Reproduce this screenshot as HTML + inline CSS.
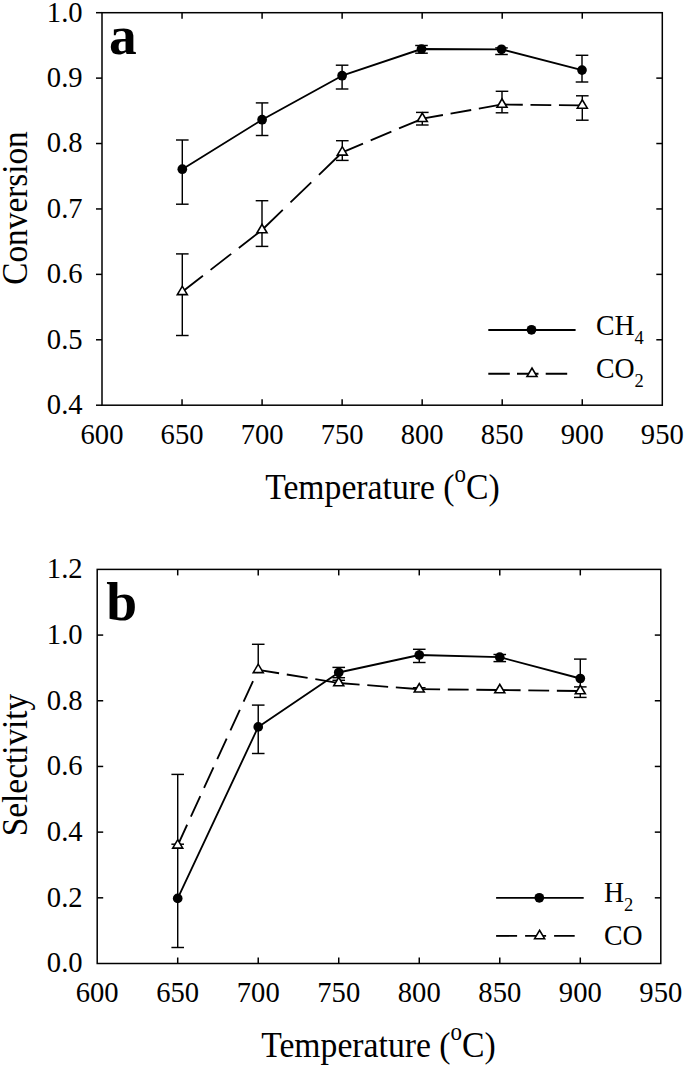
<!DOCTYPE html>
<html><head><meta charset="utf-8"><style>
html,body{margin:0;padding:0;background:#fff;}
body{width:685px;height:1067px;overflow:hidden;}
svg{display:block;}
</style></head><body>
<svg width="685" height="1067" viewBox="0 0 685 1067" font-family='"Liberation Serif", serif'>
<rect width="685" height="1067" fill="#fff"/>
<rect x="102" y="12.7" width="560.30" height="392.50" fill="none" stroke="#000" stroke-width="1.5"/>
<line x1="96.00" y1="405.20" x2="102.00" y2="405.20" stroke="#000" stroke-width="1.5" />
<text transform="translate(82.60,414.10) scale(1,1.06)" font-size="28.6" text-anchor="end" >0.4</text>
<line x1="96.00" y1="339.78" x2="102.00" y2="339.78" stroke="#000" stroke-width="1.5" />
<line x1="656.30" y1="339.78" x2="662.30" y2="339.78" stroke="#000" stroke-width="1.5" />
<text transform="translate(82.60,348.68) scale(1,1.06)" font-size="28.6" text-anchor="end" >0.5</text>
<line x1="96.00" y1="274.37" x2="102.00" y2="274.37" stroke="#000" stroke-width="1.5" />
<line x1="656.30" y1="274.37" x2="662.30" y2="274.37" stroke="#000" stroke-width="1.5" />
<text transform="translate(82.60,283.27) scale(1,1.06)" font-size="28.6" text-anchor="end" >0.6</text>
<line x1="96.00" y1="208.95" x2="102.00" y2="208.95" stroke="#000" stroke-width="1.5" />
<line x1="656.30" y1="208.95" x2="662.30" y2="208.95" stroke="#000" stroke-width="1.5" />
<text transform="translate(82.60,217.85) scale(1,1.06)" font-size="28.6" text-anchor="end" >0.7</text>
<line x1="96.00" y1="143.53" x2="102.00" y2="143.53" stroke="#000" stroke-width="1.5" />
<line x1="656.30" y1="143.53" x2="662.30" y2="143.53" stroke="#000" stroke-width="1.5" />
<text transform="translate(82.60,152.43) scale(1,1.06)" font-size="28.6" text-anchor="end" >0.8</text>
<line x1="96.00" y1="78.12" x2="102.00" y2="78.12" stroke="#000" stroke-width="1.5" />
<line x1="656.30" y1="78.12" x2="662.30" y2="78.12" stroke="#000" stroke-width="1.5" />
<text transform="translate(82.60,87.02) scale(1,1.06)" font-size="28.6" text-anchor="end" >0.9</text>
<line x1="96.00" y1="12.70" x2="102.00" y2="12.70" stroke="#000" stroke-width="1.5" />
<text transform="translate(82.60,21.60) scale(1,1.06)" font-size="28.6" text-anchor="end" >1.0</text>
<text transform="translate(102.00,443.60) scale(1,1.06)" font-size="28.6" text-anchor="middle" >600</text>
<line x1="182.04" y1="405.20" x2="182.04" y2="399.20" stroke="#000" stroke-width="1.5" />
<line x1="182.04" y1="12.70" x2="182.04" y2="18.70" stroke="#000" stroke-width="1.5" />
<text transform="translate(182.04,443.60) scale(1,1.06)" font-size="28.6" text-anchor="middle" >650</text>
<line x1="262.09" y1="405.20" x2="262.09" y2="399.20" stroke="#000" stroke-width="1.5" />
<line x1="262.09" y1="12.70" x2="262.09" y2="18.70" stroke="#000" stroke-width="1.5" />
<text transform="translate(262.09,443.60) scale(1,1.06)" font-size="28.6" text-anchor="middle" >700</text>
<line x1="342.13" y1="405.20" x2="342.13" y2="399.20" stroke="#000" stroke-width="1.5" />
<line x1="342.13" y1="12.70" x2="342.13" y2="18.70" stroke="#000" stroke-width="1.5" />
<text transform="translate(342.13,443.60) scale(1,1.06)" font-size="28.6" text-anchor="middle" >750</text>
<line x1="422.17" y1="405.20" x2="422.17" y2="399.20" stroke="#000" stroke-width="1.5" />
<line x1="422.17" y1="12.70" x2="422.17" y2="18.70" stroke="#000" stroke-width="1.5" />
<text transform="translate(422.17,443.60) scale(1,1.06)" font-size="28.6" text-anchor="middle" >800</text>
<line x1="502.21" y1="405.20" x2="502.21" y2="399.20" stroke="#000" stroke-width="1.5" />
<line x1="502.21" y1="12.70" x2="502.21" y2="18.70" stroke="#000" stroke-width="1.5" />
<text transform="translate(502.21,443.60) scale(1,1.06)" font-size="28.6" text-anchor="middle" >850</text>
<line x1="582.26" y1="405.20" x2="582.26" y2="399.20" stroke="#000" stroke-width="1.5" />
<line x1="582.26" y1="12.70" x2="582.26" y2="18.70" stroke="#000" stroke-width="1.5" />
<text transform="translate(582.26,443.60) scale(1,1.06)" font-size="28.6" text-anchor="middle" >900</text>
<text transform="translate(662.30,443.60) scale(1,1.06)" font-size="28.6" text-anchor="middle" >950</text>
<line x1="182.30" y1="253.90" x2="182.30" y2="335.50" stroke="#000" stroke-width="1.45" />
<line x1="176.00" y1="253.90" x2="188.60" y2="253.90" stroke="#000" stroke-width="1.45" />
<line x1="176.00" y1="335.50" x2="188.60" y2="335.50" stroke="#000" stroke-width="1.45" />
<line x1="262.00" y1="200.70" x2="262.00" y2="246.40" stroke="#000" stroke-width="1.45" />
<line x1="255.70" y1="200.70" x2="268.30" y2="200.70" stroke="#000" stroke-width="1.45" />
<line x1="255.70" y1="246.40" x2="268.30" y2="246.40" stroke="#000" stroke-width="1.45" />
<line x1="342.30" y1="140.70" x2="342.30" y2="160.40" stroke="#000" stroke-width="1.45" />
<line x1="336.00" y1="140.70" x2="348.60" y2="140.70" stroke="#000" stroke-width="1.45" />
<line x1="336.00" y1="160.40" x2="348.60" y2="160.40" stroke="#000" stroke-width="1.45" />
<line x1="422.30" y1="112.40" x2="422.30" y2="125.00" stroke="#000" stroke-width="1.45" />
<line x1="416.00" y1="112.40" x2="428.60" y2="112.40" stroke="#000" stroke-width="1.45" />
<line x1="416.00" y1="125.00" x2="428.60" y2="125.00" stroke="#000" stroke-width="1.45" />
<line x1="502.00" y1="91.30" x2="502.00" y2="112.80" stroke="#000" stroke-width="1.45" />
<line x1="495.70" y1="91.30" x2="508.30" y2="91.30" stroke="#000" stroke-width="1.45" />
<line x1="495.70" y1="112.80" x2="508.30" y2="112.80" stroke="#000" stroke-width="1.45" />
<line x1="582.30" y1="95.80" x2="582.30" y2="120.20" stroke="#000" stroke-width="1.45" />
<line x1="576.00" y1="95.80" x2="588.60" y2="95.80" stroke="#000" stroke-width="1.45" />
<line x1="576.00" y1="120.20" x2="588.60" y2="120.20" stroke="#000" stroke-width="1.45" />
<line x1="182.30" y1="140.00" x2="182.30" y2="204.20" stroke="#000" stroke-width="1.45" />
<line x1="176.00" y1="140.00" x2="188.60" y2="140.00" stroke="#000" stroke-width="1.45" />
<line x1="176.00" y1="204.20" x2="188.60" y2="204.20" stroke="#000" stroke-width="1.45" />
<line x1="262.10" y1="102.90" x2="262.10" y2="135.50" stroke="#000" stroke-width="1.45" />
<line x1="255.80" y1="102.90" x2="268.40" y2="102.90" stroke="#000" stroke-width="1.45" />
<line x1="255.80" y1="135.50" x2="268.40" y2="135.50" stroke="#000" stroke-width="1.45" />
<line x1="342.10" y1="65.20" x2="342.10" y2="89.00" stroke="#000" stroke-width="1.45" />
<line x1="335.80" y1="65.20" x2="348.40" y2="65.20" stroke="#000" stroke-width="1.45" />
<line x1="335.80" y1="89.00" x2="348.40" y2="89.00" stroke="#000" stroke-width="1.45" />
<line x1="421.50" y1="45.50" x2="421.50" y2="53.20" stroke="#000" stroke-width="1.45" />
<line x1="415.20" y1="45.50" x2="427.80" y2="45.50" stroke="#000" stroke-width="1.45" />
<line x1="415.20" y1="53.20" x2="427.80" y2="53.20" stroke="#000" stroke-width="1.45" />
<line x1="501.50" y1="47.90" x2="501.50" y2="54.50" stroke="#000" stroke-width="1.45" />
<line x1="495.20" y1="47.90" x2="507.80" y2="47.90" stroke="#000" stroke-width="1.45" />
<line x1="495.20" y1="54.50" x2="507.80" y2="54.50" stroke="#000" stroke-width="1.45" />
<line x1="582.00" y1="55.30" x2="582.00" y2="82.00" stroke="#000" stroke-width="1.45" />
<line x1="575.70" y1="55.30" x2="588.30" y2="55.30" stroke="#000" stroke-width="1.45" />
<line x1="575.70" y1="82.00" x2="588.30" y2="82.00" stroke="#000" stroke-width="1.45" />
<polyline points="182.30,169.20 262.10,119.70 342.10,75.70 421.50,49.00 501.50,49.30 582.00,70.10" fill="none" stroke="#000" stroke-width="1.85" stroke-linejoin="round"/>
<line x1="182.30" y1="291.80" x2="262.00" y2="230.00" stroke="#000" stroke-width="1.85" stroke-dasharray="26.11 9.66"/>
<line x1="262.00" y1="230.00" x2="342.30" y2="152.30" stroke="#000" stroke-width="1.85" stroke-dasharray="28.93 10.70"/>
<line x1="342.30" y1="152.30" x2="422.30" y2="118.70" stroke="#000" stroke-width="1.85" stroke-dasharray="22.46 8.31"/>
<line x1="422.30" y1="118.70" x2="502.00" y2="104.50" stroke="#000" stroke-width="1.85" stroke-dasharray="20.96 7.75"/>
<line x1="502.00" y1="104.50" x2="582.30" y2="105.40" stroke="#000" stroke-width="1.85" stroke-dasharray="20.79 7.69"/>
<circle cx="182.30" cy="169.20" r="4.85" fill="#000"/>
<circle cx="262.10" cy="119.70" r="4.85" fill="#000"/>
<circle cx="342.10" cy="75.70" r="4.85" fill="#000"/>
<circle cx="421.50" cy="49.00" r="4.85" fill="#000"/>
<circle cx="501.50" cy="49.30" r="4.85" fill="#000"/>
<circle cx="582.00" cy="70.10" r="4.85" fill="#000"/>
<polygon points="177.30,294.60 187.30,294.60 182.30,286.20" fill="#fff" stroke="#000" stroke-width="1.6" stroke-linejoin="miter"/>
<polygon points="257.00,232.80 267.00,232.80 262.00,224.40" fill="#fff" stroke="#000" stroke-width="1.6" stroke-linejoin="miter"/>
<polygon points="337.30,155.10 347.30,155.10 342.30,146.70" fill="#fff" stroke="#000" stroke-width="1.6" stroke-linejoin="miter"/>
<polygon points="417.30,121.50 427.30,121.50 422.30,113.10" fill="#fff" stroke="#000" stroke-width="1.6" stroke-linejoin="miter"/>
<polygon points="497.00,107.30 507.00,107.30 502.00,98.90" fill="#fff" stroke="#000" stroke-width="1.6" stroke-linejoin="miter"/>
<polygon points="577.30,108.20 587.30,108.20 582.30,99.80" fill="#fff" stroke="#000" stroke-width="1.6" stroke-linejoin="miter"/>
<line x1="488.30" y1="330.00" x2="575.60" y2="330.00" stroke="#000" stroke-width="1.85" />
<circle cx="531.50" cy="329.80" r="4.85" fill="#000"/>
<line x1="488.30" y1="373.70" x2="567.20" y2="373.70" stroke="#000" stroke-width="1.85" stroke-dasharray="21.50 7.20"/>
<polygon points="527.00,376.50 537.00,376.50 532.00,368.10" fill="#fff" stroke="#000" stroke-width="1.6" stroke-linejoin="miter"/>
<text transform="translate(596.00,335.00) scale(1,1.05)" font-size="27.8" text-anchor="start" >CH<tspan font-size="18.5" dy="8.6">4</tspan></text>
<text transform="translate(596.00,377.90) scale(1,1.05)" font-size="27.8" text-anchor="start" >CO<tspan font-size="18.5" dy="8.6">2</tspan></text>
<text transform="translate(109.00,53.50)" font-size="55.5" text-anchor="start" font-weight="bold">a</text>
<text transform="translate(265.20,499.10) scale(1,1.065)" font-size="33.7" text-anchor="start" >Temperature (<tspan font-size="23" dy="-15.6">o</tspan><tspan dy="15.6">C)</tspan></text>
<text transform="translate(26.60,208.00) rotate(-90) scale(1,1.07)" font-size="33.3" text-anchor="middle" >Conversion</text>
<rect x="97.2" y="569.4" width="563.60" height="394.10" fill="none" stroke="#000" stroke-width="1.5"/>
<text transform="translate(82.60,972.40) scale(1,1.06)" font-size="28.6" text-anchor="end" >0.0</text>
<line x1="97.20" y1="897.82" x2="103.20" y2="897.82" stroke="#000" stroke-width="1.5" />
<line x1="654.80" y1="897.82" x2="660.80" y2="897.82" stroke="#000" stroke-width="1.5" />
<text transform="translate(82.60,906.72) scale(1,1.06)" font-size="28.6" text-anchor="end" >0.2</text>
<line x1="97.20" y1="832.13" x2="103.20" y2="832.13" stroke="#000" stroke-width="1.5" />
<line x1="654.80" y1="832.13" x2="660.80" y2="832.13" stroke="#000" stroke-width="1.5" />
<text transform="translate(82.60,841.03) scale(1,1.06)" font-size="28.6" text-anchor="end" >0.4</text>
<line x1="97.20" y1="766.45" x2="103.20" y2="766.45" stroke="#000" stroke-width="1.5" />
<line x1="654.80" y1="766.45" x2="660.80" y2="766.45" stroke="#000" stroke-width="1.5" />
<text transform="translate(82.60,775.35) scale(1,1.06)" font-size="28.6" text-anchor="end" >0.6</text>
<line x1="97.20" y1="700.77" x2="103.20" y2="700.77" stroke="#000" stroke-width="1.5" />
<line x1="654.80" y1="700.77" x2="660.80" y2="700.77" stroke="#000" stroke-width="1.5" />
<text transform="translate(82.60,709.67) scale(1,1.06)" font-size="28.6" text-anchor="end" >0.8</text>
<line x1="97.20" y1="635.08" x2="103.20" y2="635.08" stroke="#000" stroke-width="1.5" />
<line x1="654.80" y1="635.08" x2="660.80" y2="635.08" stroke="#000" stroke-width="1.5" />
<text transform="translate(82.60,643.98) scale(1,1.06)" font-size="28.6" text-anchor="end" >1.0</text>
<text transform="translate(82.60,578.30) scale(1,1.06)" font-size="28.6" text-anchor="end" >1.2</text>
<text transform="translate(97.20,1001.90) scale(1,1.06)" font-size="28.6" text-anchor="middle" >600</text>
<line x1="177.71" y1="963.50" x2="177.71" y2="957.50" stroke="#000" stroke-width="1.5" />
<line x1="177.71" y1="569.40" x2="177.71" y2="575.40" stroke="#000" stroke-width="1.5" />
<text transform="translate(177.71,1001.90) scale(1,1.06)" font-size="28.6" text-anchor="middle" >650</text>
<line x1="258.23" y1="963.50" x2="258.23" y2="957.50" stroke="#000" stroke-width="1.5" />
<line x1="258.23" y1="569.40" x2="258.23" y2="575.40" stroke="#000" stroke-width="1.5" />
<text transform="translate(258.23,1001.90) scale(1,1.06)" font-size="28.6" text-anchor="middle" >700</text>
<line x1="338.74" y1="963.50" x2="338.74" y2="957.50" stroke="#000" stroke-width="1.5" />
<line x1="338.74" y1="569.40" x2="338.74" y2="575.40" stroke="#000" stroke-width="1.5" />
<text transform="translate(338.74,1001.90) scale(1,1.06)" font-size="28.6" text-anchor="middle" >750</text>
<line x1="419.26" y1="963.50" x2="419.26" y2="957.50" stroke="#000" stroke-width="1.5" />
<line x1="419.26" y1="569.40" x2="419.26" y2="575.40" stroke="#000" stroke-width="1.5" />
<text transform="translate(419.26,1001.90) scale(1,1.06)" font-size="28.6" text-anchor="middle" >800</text>
<line x1="499.77" y1="963.50" x2="499.77" y2="957.50" stroke="#000" stroke-width="1.5" />
<line x1="499.77" y1="569.40" x2="499.77" y2="575.40" stroke="#000" stroke-width="1.5" />
<text transform="translate(499.77,1001.90) scale(1,1.06)" font-size="28.6" text-anchor="middle" >850</text>
<line x1="580.29" y1="963.50" x2="580.29" y2="957.50" stroke="#000" stroke-width="1.5" />
<line x1="580.29" y1="569.40" x2="580.29" y2="575.40" stroke="#000" stroke-width="1.5" />
<text transform="translate(580.29,1001.90) scale(1,1.06)" font-size="28.6" text-anchor="middle" >900</text>
<text transform="translate(660.80,1001.90) scale(1,1.06)" font-size="28.6" text-anchor="middle" >950</text>
<line x1="177.71" y1="774.40" x2="177.71" y2="947.50" stroke="#000" stroke-width="1.45" />
<line x1="171.41" y1="774.40" x2="184.01" y2="774.40" stroke="#000" stroke-width="1.45" />
<line x1="171.41" y1="844.20" x2="184.01" y2="844.20" stroke="#000" stroke-width="1.45" />
<line x1="171.41" y1="947.50" x2="184.01" y2="947.50" stroke="#000" stroke-width="1.45" />
<line x1="258.23" y1="644.30" x2="258.23" y2="670.00" stroke="#000" stroke-width="1.45" />
<line x1="251.93" y1="644.30" x2="264.53" y2="644.30" stroke="#000" stroke-width="1.45" />
<line x1="258.23" y1="705.10" x2="258.23" y2="753.50" stroke="#000" stroke-width="1.45" />
<line x1="251.93" y1="705.10" x2="264.53" y2="705.10" stroke="#000" stroke-width="1.45" />
<line x1="251.93" y1="753.50" x2="264.53" y2="753.50" stroke="#000" stroke-width="1.45" />
<line x1="338.74" y1="667.40" x2="338.74" y2="683.00" stroke="#000" stroke-width="1.45" />
<line x1="332.44" y1="667.40" x2="345.04" y2="667.40" stroke="#000" stroke-width="1.45" />
<line x1="332.44" y1="677.70" x2="345.04" y2="677.70" stroke="#000" stroke-width="1.45" />
<line x1="332.44" y1="680.30" x2="345.04" y2="680.30" stroke="#000" stroke-width="1.45" />
<line x1="419.26" y1="649.30" x2="419.26" y2="662.50" stroke="#000" stroke-width="1.45" />
<line x1="412.96" y1="649.30" x2="425.56" y2="649.30" stroke="#000" stroke-width="1.45" />
<line x1="412.96" y1="662.50" x2="425.56" y2="662.50" stroke="#000" stroke-width="1.45" />
<line x1="419.26" y1="687.70" x2="419.26" y2="690.00" stroke="#000" stroke-width="1.45" />
<line x1="412.96" y1="687.70" x2="425.56" y2="687.70" stroke="#000" stroke-width="1.45" />
<line x1="499.77" y1="654.50" x2="499.77" y2="661.60" stroke="#000" stroke-width="1.45" />
<line x1="493.47" y1="654.50" x2="506.07" y2="654.50" stroke="#000" stroke-width="1.45" />
<line x1="493.47" y1="661.60" x2="506.07" y2="661.60" stroke="#000" stroke-width="1.45" />
<line x1="580.29" y1="659.10" x2="580.29" y2="697.40" stroke="#000" stroke-width="1.45" />
<line x1="573.99" y1="659.10" x2="586.59" y2="659.10" stroke="#000" stroke-width="1.45" />
<line x1="573.99" y1="686.90" x2="586.59" y2="686.90" stroke="#000" stroke-width="1.45" />
<line x1="573.99" y1="697.40" x2="586.59" y2="697.40" stroke="#000" stroke-width="1.45" />
<polyline points="177.71,898.40 258.23,726.90 338.74,672.50 419.26,655.00 499.77,657.20 580.29,678.50" fill="none" stroke="#000" stroke-width="1.85" stroke-linejoin="round"/>
<line x1="177.71" y1="845.30" x2="258.23" y2="669.80" stroke="#000" stroke-width="1.85" stroke-dasharray="22.60 9.00"/>
<line x1="258.23" y1="669.80" x2="338.74" y2="683.00" stroke="#000" stroke-width="1.85" stroke-dasharray="21.12 7.81"/>
<line x1="338.74" y1="683.00" x2="419.26" y2="689.20" stroke="#000" stroke-width="1.85" stroke-dasharray="20.90 7.73"/>
<line x1="419.26" y1="689.20" x2="499.77" y2="690.00" stroke="#000" stroke-width="1.85" stroke-dasharray="20.84 7.71"/>
<line x1="499.77" y1="690.00" x2="580.29" y2="691.00" stroke="#000" stroke-width="1.85" stroke-dasharray="20.84 7.71"/>
<circle cx="177.71" cy="898.40" r="4.85" fill="#000"/>
<circle cx="258.23" cy="726.90" r="4.85" fill="#000"/>
<circle cx="338.74" cy="672.50" r="4.85" fill="#000"/>
<circle cx="419.26" cy="655.00" r="4.85" fill="#000"/>
<circle cx="499.77" cy="657.20" r="4.85" fill="#000"/>
<circle cx="580.29" cy="678.50" r="4.85" fill="#000"/>
<polygon points="172.71,848.10 182.71,848.10 177.71,839.70" fill="#fff" stroke="#000" stroke-width="1.6" stroke-linejoin="miter"/>
<polygon points="253.23,672.60 263.23,672.60 258.23,664.20" fill="#fff" stroke="#000" stroke-width="1.6" stroke-linejoin="miter"/>
<polygon points="333.74,685.80 343.74,685.80 338.74,677.40" fill="#fff" stroke="#000" stroke-width="1.6" stroke-linejoin="miter"/>
<polygon points="414.26,692.00 424.26,692.00 419.26,683.60" fill="#fff" stroke="#000" stroke-width="1.6" stroke-linejoin="miter"/>
<polygon points="494.77,692.80 504.77,692.80 499.77,684.40" fill="#fff" stroke="#000" stroke-width="1.6" stroke-linejoin="miter"/>
<polygon points="575.29,693.80 585.29,693.80 580.29,685.40" fill="#fff" stroke="#000" stroke-width="1.6" stroke-linejoin="miter"/>
<line x1="496.10" y1="897.80" x2="583.70" y2="897.80" stroke="#000" stroke-width="1.85" />
<circle cx="539.30" cy="897.80" r="4.85" fill="#000"/>
<line x1="496.10" y1="935.90" x2="574.70" y2="935.90" stroke="#000" stroke-width="1.85" stroke-dasharray="21.00 8.00"/>
<polygon points="534.60,938.70 544.60,938.70 539.60,930.30" fill="#fff" stroke="#000" stroke-width="1.6" stroke-linejoin="miter"/>
<text transform="translate(604.00,902.40) scale(1,1.05)" font-size="27.8" text-anchor="start" >H<tspan font-size="18.5" dy="8.6">2</tspan></text>
<text transform="translate(604.00,945.00) scale(1,1.05)" font-size="27.8" text-anchor="start" >CO</text>
<text transform="translate(106.20,620.00)" font-size="55.5" text-anchor="start" font-weight="bold">b</text>
<text transform="translate(261.20,1056.80) scale(1,1.065)" font-size="33.7" text-anchor="start" >Temperature (<tspan font-size="23" dy="-15.6">o</tspan><tspan dy="15.6">C)</tspan></text>
<text transform="translate(27.00,765.00) rotate(-90) scale(1,1.07)" font-size="33.3" text-anchor="middle" >Selectivity</text>
</svg>
</body></html>
